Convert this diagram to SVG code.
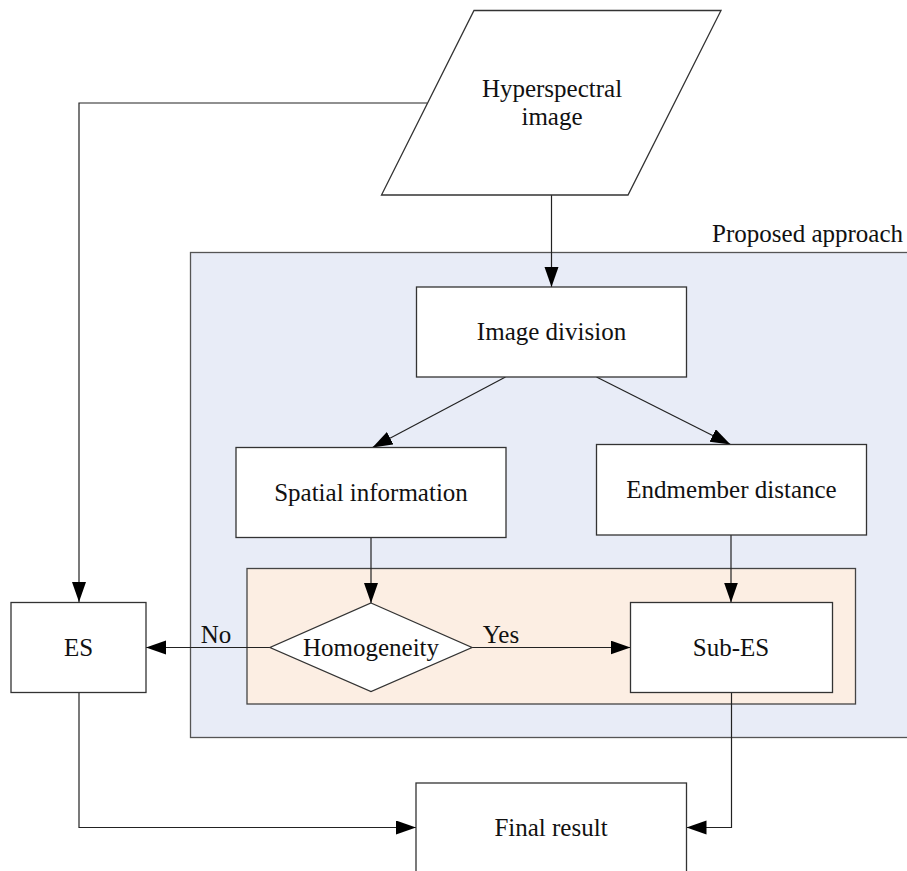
<svg xmlns="http://www.w3.org/2000/svg" width="907" height="871" viewBox="0 0 907 871">
<style>
  text { font-family: "Liberation Serif", "Times New Roman", "DejaVu Serif", serif; font-size: 25px; fill: #111; text-anchor: middle; }
  .box { fill: #fff; stroke: #333; stroke-width: 1.3; }
  .conn { fill: none; stroke: #222; stroke-width: 1.2; }
</style>
<defs>
  <marker id="arr" markerUnits="userSpaceOnUse" markerWidth="22" markerHeight="16" refX="20" refY="7" orient="auto">
    <path d="M0,0 L20,7 L0,14 Z" fill="#000"/>
  </marker>
</defs>
<rect width="907" height="871" fill="#fff"/>
<g id="proposed-approach">
  <rect x="190.5" y="252.5" width="730" height="485" fill="#E8ECF7" stroke="#555" stroke-width="1.3"/>
  <text x="903" y="242" style="text-anchor:end">Proposed approach</text>
</g>
<g id="inner-region">
  <rect x="247" y="568.5" width="608.5" height="135.5" fill="#FCEEE3" stroke="#444" stroke-width="1.3"/>
</g>
<g id="connectors">
  <path class="conn" d="M427,103 H79 V602" marker-end="url(#arr)"/>
  <path class="conn" d="M551.5,195 V287" marker-end="url(#arr)"/>
  <path class="conn" d="M505.5,377 L372.5,447.5" marker-end="url(#arr)"/>
  <path class="conn" d="M596.5,377 L730.5,444.5" marker-end="url(#arr)"/>
  <path class="conn" d="M371,537.5 V603" marker-end="url(#arr)"/>
  <path class="conn" d="M731,535 V602.5" marker-end="url(#arr)"/>
  <path class="conn" d="M270,647.5 H146" marker-end="url(#arr)"/>
  <path class="conn" d="M472,647.5 H630.5" marker-end="url(#arr)"/>
  <path class="conn" d="M79,692.5 V827.5 H416" marker-end="url(#arr)"/>
  <path class="conn" d="M731.5,692.5 V827.5 H686.5" marker-end="url(#arr)"/>
  <text x="216" y="643">No</text>
  <text x="501" y="643">Yes</text>
</g>
<g id="hyperspectral-image">
  <polygon class="box" points="474,10.5 721,10.5 628,195 381.5,195"/>
  <text x="552" y="97">Hyperspectral</text>
  <text x="552" y="125">image</text>
</g>
<g id="image-division">
  <rect class="box" x="416.5" y="287" width="270" height="90"/>
  <text x="551.5" y="340">Image division</text>
</g>
<g id="spatial-information">
  <rect class="box" x="236" y="447.5" width="270" height="90"/>
  <text x="371" y="501">Spatial information</text>
</g>
<g id="endmember-distance">
  <rect class="box" x="596.5" y="444.5" width="270" height="90.5"/>
  <text x="731.5" y="498">Endmember distance</text>
</g>
<g id="homogeneity">
  <polygon class="box" points="371,603 472,647.5 371,691.5 270,647.5"/>
  <text x="371" y="656">Homogeneity</text>
</g>
<g id="sub-es">
  <rect class="box" x="630.5" y="602.5" width="202" height="90"/>
  <text x="731" y="656">Sub-ES</text>
</g>
<g id="es">
  <rect class="box" x="11" y="602.5" width="135" height="90"/>
  <text x="78.5" y="656">ES</text>
</g>
<g id="final-result">
  <rect class="box" x="416" y="783" width="270.5" height="100"/>
  <text x="551" y="836">Final result</text>
</g>
</svg>
